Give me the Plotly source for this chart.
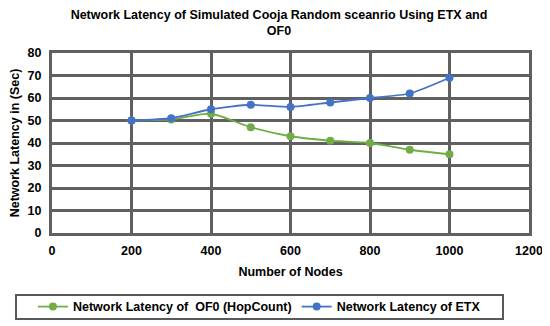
import plotly.graph_objects as go

nodes = [200, 300, 400, 500, 600, 700, 800, 900, 1000]
latency_of0 = [50, 50.5, 53, 47, 43, 41, 40, 37, 35]
latency_etx = [50, 51, 55, 57, 56, 58, 60, 62, 69]

FONT = "Liberation Sans, Arial, sans-serif"
GRID = "#606060"
FS = 12.5

fig = go.Figure()
fig.add_trace(go.Scatter(
    x=nodes, y=latency_of0, mode="lines+markers",
    name="Network Latency of  OF0 (HopCount)",
    line=dict(color="#70AD47", width=1.8, shape="spline", smoothing=0.6),
    marker=dict(color="#70AD47", size=8),
))
fig.add_trace(go.Scatter(
    x=nodes, y=latency_etx, mode="lines+markers",
    name="Network Latency of ETX",
    line=dict(color="#4472C4", width=1.8, shape="spline", smoothing=0.6),
    marker=dict(color="#4472C4", size=8),
))

# legend frame
fig.add_shape(type="rect", xref="paper", yref="paper",
              x0=-0.0755, x1=0.9455, y0=-0.478, y1=-0.344,
              line=dict(color="#595959", width=2), fillcolor="rgba(0,0,0,0)")

fig.update_layout(
    width=542, height=318,
    margin=dict(l=44, r=21, t=45, b=93, autoexpand=False),
    paper_bgcolor="white", plot_bgcolor="white",
    font=dict(family=FONT, size=FS, color="black", weight="bold"),
    title=dict(
        text="Network Latency of Simulated Cooja Random sceanrio Using ETX and<br>OF0",
        x=0.5, xanchor="center", y=0.966, yanchor="top",
        font=dict(family=FONT, size=FS, weight="bold"),
    ),
    xaxis=dict(
        range=[0, 1200], dtick=200, showgrid=True, gridcolor=GRID, gridwidth=2.5,
        showline=True, linecolor=GRID, linewidth=3, mirror=True,
        zeroline=False, ticks="", ticklabelstandoff=4,
        tickfont=dict(size=FS, weight="bold"),
        title=dict(text="Number of Nodes", standoff=11, font=dict(size=FS, weight="bold")),
    ),
    yaxis=dict(
        range=[0, 80], dtick=10, showgrid=True, gridcolor=GRID, gridwidth=2.5,
        showline=True, linecolor=GRID, linewidth=3, mirror=True,
        zeroline=False, ticks="", ticklabelstandoff=5,
        tickfont=dict(size=FS, weight="bold"),
        title=dict(text="Network Latency in (Sec)", standoff=7, font=dict(size=FS, weight="bold")),
    ),
    legend=dict(
        orientation="h", x=-0.04, xanchor="left", y=-0.411, yanchor="middle",
        borderwidth=0, bgcolor="rgba(0,0,0,0)",
        font=dict(size=FS, weight="bold"), itemwidth=30,
    ),
    showlegend=True,
)

fig.write_html("out.html")
